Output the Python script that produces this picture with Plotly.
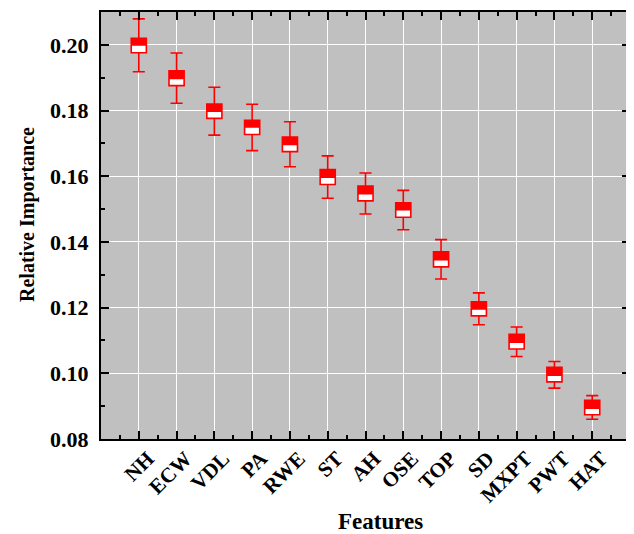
import plotly.graph_objects as go

features = ["NH", "ECW", "VDL", "PA", "RWE", "ST", "AH", "OSE", "TOP", "SD", "MXPT", "PWT", "HAT"]
upper = [0.2079, 0.1975, 0.1871, 0.1819, 0.1766, 0.1662, 0.1610, 0.1557, 0.1407, 0.1245, 0.1141, 0.1036, 0.0932]
q3 = [0.2020, 0.1921, 0.1820, 0.1770, 0.1719, 0.1620, 0.1570, 0.1519, 0.1370, 0.1218, 0.1119, 0.1018, 0.0918]
median = [0.2000, 0.1898, 0.1798, 0.1750, 0.1697, 0.1597, 0.1547, 0.1498, 0.1346, 0.1196, 0.1095, 0.0994, 0.0894]
q1 = [0.1976, 0.1876, 0.1776, 0.1727, 0.1675, 0.1575, 0.1525, 0.1475, 0.1324, 0.1175, 0.1074, 0.0974, 0.0874]
lower = [0.1918, 0.1822, 0.1725, 0.1678, 0.1629, 0.1533, 0.1485, 0.1437, 0.1287, 0.1148, 0.1051, 0.0955, 0.0860]
y_ticks = [0.08, 0.10, 0.12, 0.14, 0.16, 0.18, 0.20]

pos = list(range(len(features)))
RED = "#ff0000"
W = 0.4
font_fam = "Liberation Serif, Times New Roman, serif"

# figure is placed at (8, 8) by the page's default body margin
FW, FH = 626, 526
ML, MR, MT, MB = 93, 4, 4, 95
pw, ph = FW - ML - MR, FH - MT - MB


def px_to_paper(x, y):
    return (x - 8 - ML) / pw, 1 - (y - 8 - MT) / ph


fig = go.Figure()
# white lower half of the box
fig.add_trace(go.Bar(
    x=pos, base=q1, y=[m - a for m, a in zip(median, q1)],
    width=W, marker=dict(color="white", line=dict(width=0)),
    showlegend=False, hoverinfo="skip"))
# red upper half of the box
fig.add_trace(go.Bar(
    x=pos, base=median, y=[b - m for b, m in zip(q3, median)],
    width=W, marker=dict(color=RED, line=dict(width=0)),
    showlegend=False, hoverinfo="skip"))
fig.add_trace(go.Box(
    x=pos, q1=q1, median=median, q3=q3, lowerfence=lower, upperfence=upper,
    width=W, whiskerwidth=0.8, fillcolor="rgba(0,0,0,0)",
    line=dict(color=RED, width=1.6), boxpoints=False, showlegend=False))

xt_x, xt_y = px_to_paper(380, 521)
yt_x, yt_y = px_to_paper(27, 215)
fig.update_layout(
    width=FW, height=FH,
    margin=dict(l=ML, r=MR, t=MT, b=MB),
    paper_bgcolor="white", plot_bgcolor="#c0c0c0",
    barmode="overlay", bargap=0,
    font=dict(family=font_fam, color="black"),
    showlegend=False,
    annotations=[
        dict(text="<b>Features</b>", x=xt_x, y=xt_y, xref="paper", yref="paper",
             xanchor="center", yanchor="middle",
             showarrow=False, font=dict(size=23, family=font_fam, color="black")),
        dict(text="<b>Relative Importance</b>", x=yt_x, y=yt_y, xref="paper", yref="paper",
             xanchor="center", yanchor="middle",
             showarrow=False, textangle=-90, font=dict(size=20, family=font_fam, color="black")),
    ],
)

fig.update_xaxes(
    range=[-1, 13], tickmode="array", tickvals=pos,
    ticktext=["<b>%s</b>" % f for f in features], tickangle=-45,
    tickfont=dict(size=21, family=font_fam, color="black"),
    ticks="inside", ticklen=8, tickwidth=2, tickcolor="black",
    showline=True, linecolor="black", linewidth=2, mirror="allticks",
    showgrid=True, gridcolor="white", gridwidth=1, zeroline=False,
    automargin=False, ticklabelshift=9, ticklabelstandoff=-3,
    minor=dict(tickmode="array", tickvals=[p + 0.5 for p in [-1] + pos],
               ticks="inside", ticklen=4, tickwidth=2, tickcolor="black", showgrid=False),
)
fig.update_yaxes(
    range=[0.08, 0.21], tickmode="array", tickvals=y_ticks,
    ticktext=["<b>%.2f</b>" % v for v in y_ticks],
    tickfont=dict(size=22, family=font_fam, color="black"),
    ticks="inside", ticklen=8, tickwidth=2, tickcolor="black",
    showline=True, linecolor="black", linewidth=2, mirror="allticks",
    showgrid=True, gridcolor="white", gridwidth=1.3, zeroline=False,
    automargin=False, ticklabelstandoff=6,
    minor=dict(tickmode="array", tickvals=[0.09, 0.11, 0.13, 0.15, 0.17, 0.19, 0.21],
               ticks="inside", ticklen=4, tickwidth=2, tickcolor="black", showgrid=False),
)

fig.write_html("out.html")
